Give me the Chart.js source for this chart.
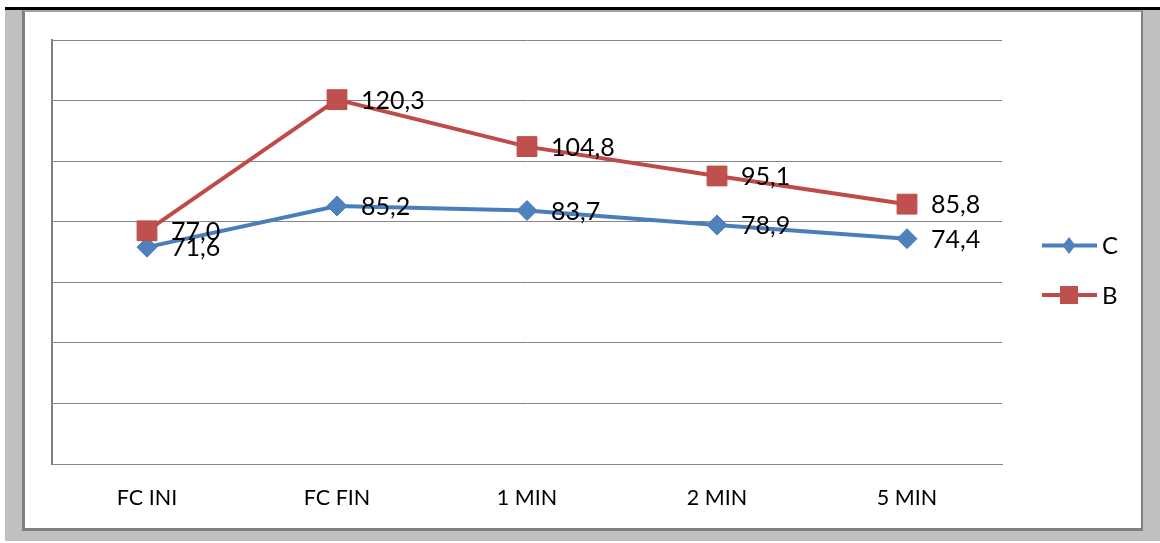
<!DOCTYPE html>
<html>
<head>
<meta charset="utf-8">
<script src="https://cdn.jsdelivr.net/npm/chart.js@4.4.1/dist/chart.umd.min.js"></script>
<style>
  html, body { margin: 0; padding: 0; background: #ffffff; }
  body { width: 1160px; height: 543px; position: relative; overflow: hidden; }
  #backdrop { position: absolute; left: 5px; top: 10px; width: 1155px; height: 531px; background: #c0c0c0; }
  #topbar { position: absolute; left: 5px; top: 7px; width: 1155px; height: 3px; background: #000000; }
  #panel {
    position: absolute; left: 22px; top: 10px; width: 1121px; height: 521px;
    box-sizing: border-box; background: #ffffff;
    border-left: 3px solid #808080; border-top: 2px solid #a0a0a0;
    border-right: 2px solid #808080; border-bottom: 3px solid #808080;
  }
  #chart { position: absolute; left: 0; top: 0; }
</style>
</head>
<body>
<div id="backdrop"></div>
<div id="topbar"></div>
<div id="panel"></div>
<canvas id="chart" width="1160" height="543"></canvas>
<script>
// Heart rate readings per moment
const categories = ['FC INI', 'FC FIN', '1 MIN', '2 MIN', '5 MIN'];
const seriesNames = ['C', 'B'];
const valuesC = [71.6, 85.2, 83.7, 78.9, 74.4];
const valuesB = [77.0, 120.3, 104.8, 95.1, 85.8];
const yTicks = [0, 20, 40, 60, 80, 100, 120, 140];

const FONT = 'Lato, "Open Sans", "DejaVu Sans", sans-serif';
const fmt = v => v.toFixed(1).replace('.', ',');

// Value labels to the right of each marker
const valueLabels = {
  id: 'valueLabels',
  afterDatasetsDraw(chart) {
    const ctx = chart.ctx;
    ctx.save();
    ctx.font = '25px ' + FONT;
    ctx.fillStyle = '#000000';
    ctx.textAlign = 'left';
    ctx.textBaseline = 'alphabetic';
    chart.data.datasets.forEach((ds, i) => {
      const meta = chart.getDatasetMeta(i);
      meta.data.forEach((pt, j) => {
        ctx.fillText(fmt(ds.data[j]), pt.x + 24, pt.y + 9);
      });
    });
    ctx.restore();
  }
};

// Legend on the right: line with its marker, then the series name
const sideLegend = {
  id: 'sideLegend',
  afterDraw(chart) {
    const ctx = chart.ctx;
    const rows = [245.5, 295];
    const x0 = 1042, x1 = 1097, xm = 1069;
    ctx.save();
    chart.data.datasets.forEach((ds, i) => {
      const y = rows[i];
      ctx.strokeStyle = ds.borderColor;
      ctx.lineWidth = 4;
      ctx.beginPath();
      ctx.moveTo(x0, y);
      ctx.lineTo(x1, y);
      ctx.stroke();
      ctx.fillStyle = ds.pointBackgroundColor;
      ctx.beginPath();
      if (ds.pointStyle === 'rectRot') {
        ctx.moveTo(xm, y - 8.5);
        ctx.lineTo(xm + 6.5, y);
        ctx.lineTo(xm, y + 8.5);
        ctx.lineTo(xm - 6.5, y);
        ctx.closePath();
      } else {
        ctx.rect(xm - 9, y - 9, 18, 18);
      }
      ctx.fill();
      ctx.font = '24px ' + FONT;
      ctx.fillStyle = '#000000';
      ctx.textAlign = 'left';
      ctx.textBaseline = 'alphabetic';
      ctx.fillText(ds.label, 1102, y + 8.5);
    });
    ctx.restore();
  }
};

new Chart(document.getElementById('chart'), {
  type: 'line',
  data: {
    labels: categories,
    datasets: [
      {
        label: seriesNames[0],
        data: valuesC,
        borderColor: '#4A7EBB',
        backgroundColor: '#4F81BD',
        pointBackgroundColor: '#4F81BD',
        pointBorderColor: '#4A7EBB',
        pointStyle: 'rectRot',
        pointRadius: 10,
        pointBorderWidth: 1,
        borderWidth: 4,
        tension: 0,
        order: 1
      },
      {
        label: seriesNames[1],
        data: valuesB,
        borderColor: '#BE4B48',
        backgroundColor: '#C0504D',
        pointBackgroundColor: '#C0504D',
        pointBorderColor: '#BE4B48',
        pointStyle: 'rect',
        pointRadius: 14,
        pointBorderWidth: 1,
        borderWidth: 4,
        tension: 0,
        order: 0
      }
    ]
  },
  options: {
    responsive: false,
    animation: false,
    devicePixelRatio: 1,
    layout: { padding: { left: 52, right: 158, top: 40, bottom: 0 } },
    plugins: {
      legend: { display: false },
      tooltip: { enabled: false }
    },
    scales: {
      x: {
        type: 'category',
        offset: true,
        grid: { display: false, drawTicks: false },
        border: { display: true, color: '#868686', width: 1 },
        ticks: {
          color: '#000000',
          font: { family: FONT, size: 21.5 },
          padding: 21,
          maxRotation: 0,
          autoSkip: false
        },
        afterFit(scale) { scale.height = 79; }
      },
      y: {
        min: yTicks[0],
        max: yTicks[yTicks.length - 1],
        afterBuildTicks(scale) { scale.ticks = yTicks.map(v => ({ value: v })); },
        grid: { color: '#868686', lineWidth: 1, drawTicks: false },
        border: { display: true, color: '#808080', width: 2 },
        ticks: { display: false },
        afterFit(scale) { scale.width = 0; }
      }
    }
  },
  plugins: [valueLabels, sideLegend]
});
</script>
</body>
</html>
